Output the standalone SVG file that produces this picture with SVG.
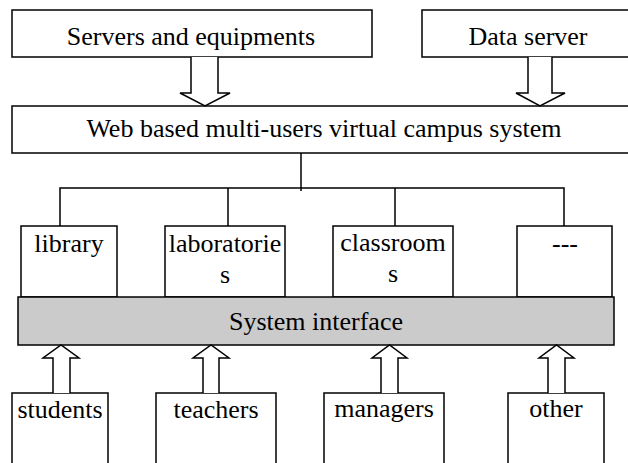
<svg xmlns="http://www.w3.org/2000/svg" width="628" height="463" viewBox="0 0 628 463">
<style>
.box{fill:#fff;stroke:#000;stroke-width:1.5}
.iface{fill:#cbcbcb;stroke:#000;stroke-width:1.5}
.arrow{fill:#fff;stroke:#000;stroke-width:1.5;stroke-linejoin:miter}
.line{fill:none;stroke:#000;stroke-width:1.5}
text{font-family:"Liberation Serif","Times New Roman",serif;font-size:26px;fill:#000;text-anchor:middle}
</style>
<rect width="628" height="463" fill="#fff"/>
<g id="servers"><rect class="box" x="12" y="10" width="360" height="47"/><text x="191" y="45">Servers and equipments</text></g>
<g id="dataserver"><rect class="box" x="422" y="10" width="214" height="47"/><text x="528" y="45">Data server</text></g>
<g id="campus"><rect class="box" x="12" y="106" width="624" height="47"/><text x="324" y="137">Web based multi-users virtual campus system</text></g>
<g id="library"><rect class="box" x="21" y="226" width="96" height="71"/><text x="69" y="252">library</text></g>
<g id="laboratories"><rect class="box" x="165" y="226" width="120" height="71"/><text x="225" y="252">laboratorie</text><text x="225" y="283">s</text></g>
<g id="classrooms"><rect class="box" x="333" y="226" width="120" height="71"/><text x="393" y="251">classroom</text><text x="393" y="282">s</text></g>
<g id="other-places"><rect class="box" x="517" y="226" width="95" height="71"/><text x="565" y="252">---</text></g>
<g id="interface"><rect class="iface" x="18" y="297" width="596" height="48"/><text x="316" y="330">System interface</text></g>
<g id="students"><rect class="box" x="12" y="393" width="96" height="80"/><text x="60" y="418">students</text></g>
<g id="teachers"><rect class="box" x="156" y="393" width="120" height="80"/><text x="216" y="418">teachers</text></g>
<g id="managers"><rect class="box" x="324" y="393" width="120" height="80"/><text x="384" y="417">managers</text></g>
<g id="other"><rect class="box" x="508" y="393" width="96" height="80"/><text x="556" y="417">other</text></g>
<g id="connectors">
<path class="arrow" d="M191,57 V93 H180 L205,106 L230,93 H218 V57"/>
<path class="arrow" d="M528,57 V93 H516 L540,106 L565,93 H552 V57"/>
<path class="line" d="M301,153 V191 M60,226 V188 H564 V226 M228,188 V226 M395,188 V226"/>
<path class="arrow" d="M53,393 V358 H43 L61,345 L79,358 H70 V393"/>
<path class="arrow" d="M203,393 V358 H193 L211,345 L229,358 H219 V393"/>
<path class="arrow" d="M381,393 V358 H372 L389.5,345 L407,358 H398 V393"/>
<path class="arrow" d="M548,393 V358 H539 L556.5,345 L574,358 H565 V393"/>
</g>
</svg>
